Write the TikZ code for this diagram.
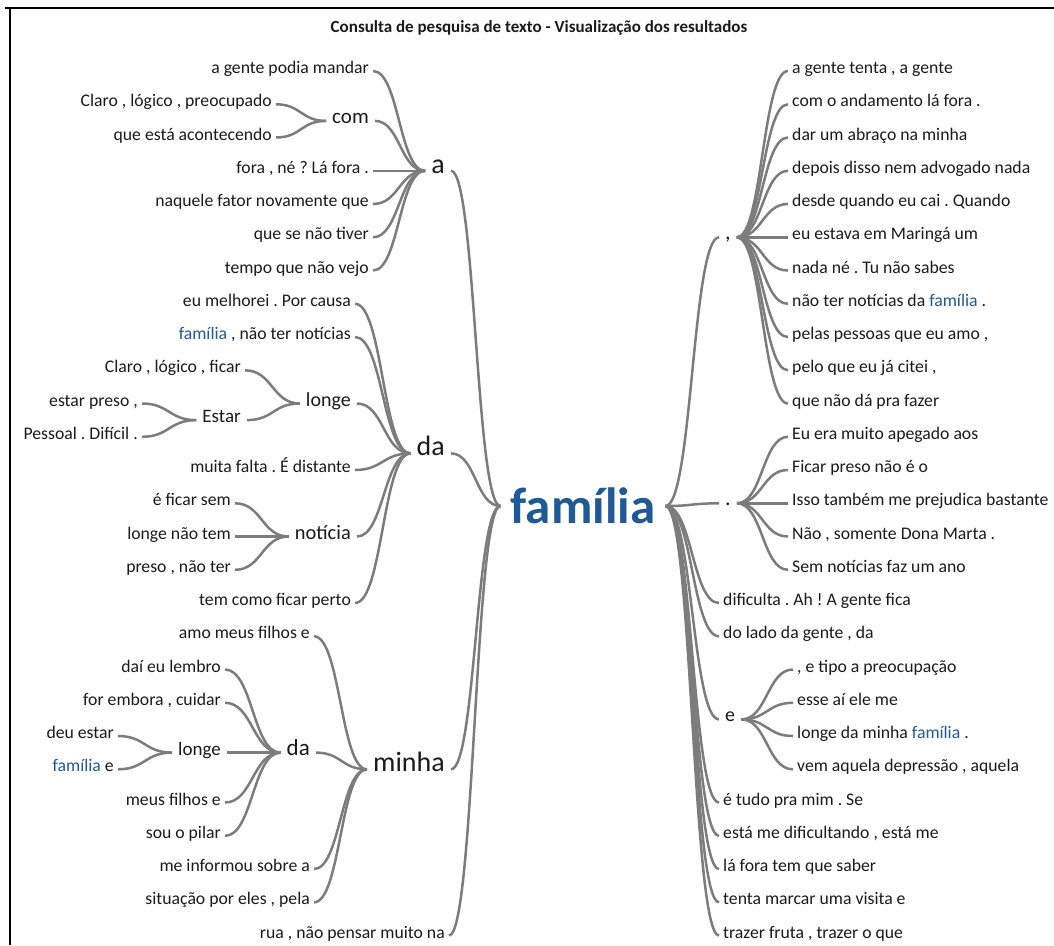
\documentclass[tikz,border=0pt]{standalone}
\usepackage{fontspec}
\setmainfont{Carlito}
\usetikzlibrary{calc}
\definecolor{txt}{HTML}{1A1A1A}
\definecolor{lnk}{HTML}{7C7C7C}
\definecolor{famc}{HTML}{1F5A96}
\newcommand{\famw}{\textcolor{famc}{família}}
\frenchspacing
\tikzset{
  leaf/.style={inner xsep=4pt, inner ysep=0pt, text height=0.7em, text depth=0.2em,
    text=txt, font=\fontsize{17.7}{21}\selectfont},
  lleaf/.style={leaf, anchor=east},
  rleaf/.style={leaf, anchor=west},
  word/.style={inner xsep=6pt, inner ysep=0pt, text height=0.7em, text depth=0.2em,
    text=txt, font=\fontsize{#1}{#1}\selectfont},
  link/.style={draw=lnk, line width=2.5pt,
    to path={let \p1=(\tikztostart), \p2=(\tikztotarget) in
      .. controls ({0.5*\x1+0.5*\x2},\y1) and ({0.5*\x1+0.5*\x2},\y2) .. (\tikztotarget)}}
}

\begin{document}
\begin{tikzpicture}[x=1pt, y=-1pt]
  \useasboundingbox (0,0) rectangle (1054,945);
  \draw[line width=2pt] (5,8) -- (1054,8);
  \draw[line width=2pt] (10,8) -- (10,945);
  \node[font=\bfseries\fontsize{17}{20}\selectfont, text=txt] (title) at (539,28)
    {Consulta de pesquisa de texto - Visualização dos resultados};

  % centre word
  \node[font=\bfseries\fontsize{51}{51}\selectfont, text=famc, inner xsep=10pt, inner ysep=0pt] (fam) at (583,506) {família};

  % left: a
  \node[word=28, anchor=east] (a) at (451,170.8) {a};
  \node[lleaf] (a0) at (373,71) {a gente podia mandar};
  \node[word=21, anchor=east] (com) at (375,120.9) {com};
  \node[lleaf] (com1) at (276,104.3) {Claro , lógico , preocupado};
  \node[lleaf] (com2) at (276,137.5) {que está acontecendo};
  \node[lleaf] (a3) at (373,170.8) {fora , né ? Lá fora .};
  \node[lleaf] (a4) at (373,204) {naquele fator novamente que};
  \node[lleaf] (a5) at (373,237.3) {que se não tiver};
  \node[lleaf] (a6) at (373,270.5) {tempo que não vejo};

  % left: da
  \node[word=28, anchor=east] (da) at (451,453.4) {da};
  \node[lleaf] (da7) at (355,303.8) {eu melhorei . Por causa};
  \node[lleaf] (da8) at (355,337) {\famw{} , não ter notícias};
  \node[word=20, anchor=east] (longe) at (357,403.5) {longe};
  \node[lleaf] (lo9) at (245,370.3) {Claro , lógico , ficar};
  \node[word=19, anchor=east] (estar) at (247,420.1) {Estar};
  \node[lleaf] (es10) at (142,403.5) {estar preso ,};
  \node[lleaf] (es11) at (142,436.8) {Pessoal . Difícil .};
  \node[lleaf] (da12) at (355,470) {muita falta . É distante};
  \node[word=20.4, anchor=east] (noticia) at (357,536.5) {notícia};
  \node[lleaf] (no13) at (235,503.3) {é ficar sem};
  \node[lleaf] (no14) at (235,536.5) {longe não tem};
  \node[lleaf] (no15) at (235,569.8) {preso , não ter};
  \node[lleaf] (da16) at (355,603) {tem como ficar perto};

  % left: minha
  \node[word=28, anchor=east] (minha) at (451,769.3) {minha};
  \node[lleaf] (mi17) at (314,636.3) {amo meus filhos e};
  \node[word=23, anchor=east] (dab) at (316,752.6) {da};
  \node[lleaf] (db18) at (225,669.5) {daí eu lembro};
  \node[lleaf] (db19) at (225,702.8) {for embora , cuidar};
  \node[word=19, anchor=east] (longeb) at (227,752.6) {longe};
  \node[lleaf] (lb20) at (118,736) {deu estar};
  \node[lleaf] (lb21) at (118,769.3) {\famw{} e};
  \node[lleaf] (db22) at (225,802.5) {meus filhos e};
  \node[lleaf] (db23) at (225,835.8) {sou o pilar};
  \node[lleaf] (mi24) at (314,869) {me informou sobre a};
  \node[lleaf] (mi25) at (314,902.3) {situação por eles , pela};
  \node[lleaf] (f26) at (449,935.5) {rua , não pensar muito na};

  % right: comma
  \node[word=22, anchor=west] (comma) at (719,237.3) {,};
  \node[rleaf] (c0) at (788,71) {a gente tenta , a gente};
  \node[rleaf] (c1) at (788,104.3) {com o andamento lá fora .};
  \node[rleaf] (c2) at (788,137.5) {dar um abraço na minha};
  \node[rleaf] (c3) at (788,170.8) {depois disso nem advogado nada};
  \node[rleaf] (c4) at (788,204) {desde quando eu cai . Quando};
  \node[rleaf] (c5) at (788,237.3) {eu estava em Maringá um};
  \node[rleaf] (c6) at (788,270.5) {nada né . Tu não sabes};
  \node[rleaf] (c7) at (788,303.8) {não ter notícias da \famw{} .};
  \node[rleaf] (c8) at (788,337) {pelas pessoas que eu amo ,};
  \node[rleaf] (c9) at (788,370.3) {pelo que eu já citei ,};
  \node[rleaf] (c10) at (788,403.5) {que não dá pra fazer};

  % right: dot
  \node[word=22, anchor=west] (dot) at (719,503.3) {.};
  \node[rleaf] (d11) at (788,436.8) {Eu era muito apegado aos};
  \node[rleaf] (d12) at (788,470) {Ficar preso não é o};
  \node[rleaf] (d13) at (788,503.3) {Isso também me prejudica bastante};
  \node[rleaf] (d14) at (788,536.5) {Não , somente Dona Marta .};
  \node[rleaf] (d15) at (788,569.8) {Sem notícias faz um ano};

  \node[rleaf] (r16) at (719,603) {dificulta . Ah ! A gente fica};
  \node[rleaf] (r17) at (719,636.3) {do lado da gente , da};

  % right: e
  \node[word=20, anchor=west] (e) at (719,719.4) {e};
  \node[rleaf] (e18) at (793,669.5) {, e tipo a preocupação};
  \node[rleaf] (e19) at (793,702.8) {esse aí ele me};
  \node[rleaf] (e20) at (793,736) {longe da minha \famw{} .};
  \node[rleaf] (e21) at (793,769.3) {vem aquela depressão , aquela};

  \node[rleaf] (r22) at (719,802.5) {é tudo pra mim . Se};
  \node[rleaf] (r23) at (719,835.8) {está me dificultando , está me};
  \node[rleaf] (r24) at (719,869) {lá fora tem que saber};
  \node[rleaf] (r25) at (719,902.3) {tenta marcar uma visita e};
  \node[rleaf] (r26) at (719,935.5) {trazer fruta , trazer o que};

  % connectors, left side
  \foreach \w in {a0,com,a3,a4,a5,a6} \draw[link] (\w.east) to (a.west);
  \foreach \w in {com1,com2} \draw[link] (\w.east) to (com.west);
  \foreach \w in {da7,da8,longe,da12,noticia,da16} \draw[link] (\w.east) to (da.west);
  \foreach \w in {lo9,estar} \draw[link] (\w.east) to (longe.west);
  \foreach \w in {es10,es11} \draw[link] (\w.east) to (estar.west);
  \foreach \w in {no13,no14,no15} \draw[link] (\w.east) to (noticia.west);
  \foreach \w in {mi17,dab,mi24,mi25} \draw[link] (\w.east) to (minha.west);
  \foreach \w in {db18,db19,longeb,db22,db23} \draw[link] (\w.east) to (dab.west);
  \foreach \w in {lb20,lb21} \draw[link] (\w.east) to (longeb.west);
  \foreach \w in {a,da,minha,f26} \draw[link] (\w.east) to (fam.west);

  % connectors, right side
  \foreach \w in {comma,dot,r16,r17,e,r22,r23,r24,r25,r26} \draw[link] (fam.east) to (\w.west);
  \foreach \w in {c0,c1,c2,c3,c4,c5,c6,c7,c8,c9,c10} \draw[link] (comma.east) to (\w.west);
  \foreach \w in {d11,d12,d13,d14,d15} \draw[link] (dot.east) to (\w.west);
  \foreach \w in {e18,e19,e20,e21} \draw[link] (e.east) to (\w.west);
\end{tikzpicture}
\end{document}
